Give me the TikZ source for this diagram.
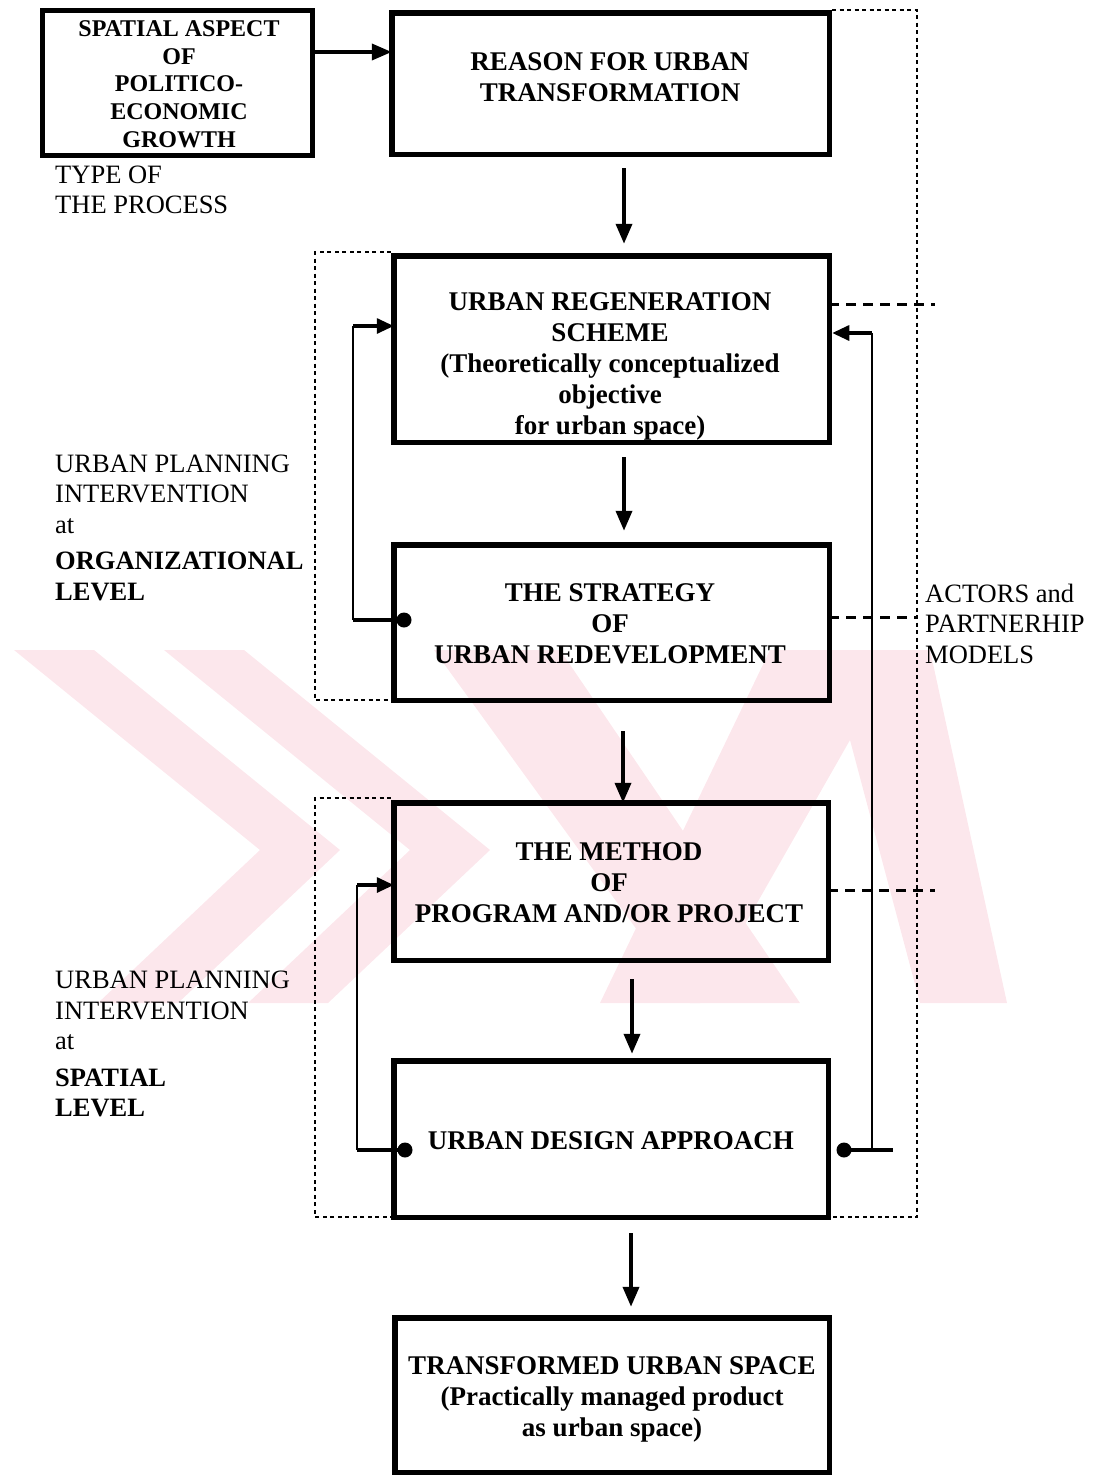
\documentclass[tikz,border=0pt]{standalone}
\usepackage{fontspec}
\setmainfont{Liberation Serif}
\usetikzlibrary{arrows.meta,calc}
\definecolor{wm}{RGB}{252,231,236}
\begin{document}
\begin{tikzpicture}[x=1pt,y=-1pt,
  box/.style={draw, line width=5.5pt, inner sep=0pt, outer sep=0pt},
  btext/.style={align=center, inner sep=0pt, font=\fontsize{27}{31}\selectfont\bfseries},
  lbl/.style={align=left, inner sep=0pt, anchor=west, font=\fontsize{26.5}{30.5}\selectfont},
  arr/.style={line width=3.8pt, -{Triangle[length=20pt,width=16pt]}},
  fbarr/.style={line width=3.2pt, -{Triangle[length=17pt,width=15pt]}},
  fbline/.style={line width=3.2pt},
  fbvert/.style={line width=2.2pt},
  dotline/.style={line width=2pt, dash pattern=on 4pt off 3.5pt},
  dashline/.style={line width=3pt, dash pattern=on 10pt off 7pt},
  blob/.style={fill=black}]
\useasboundingbox (0,0) rectangle (1097,1475);

% faint background emblem
\begin{scope}[fill=wm]
  \fill (14,650) -- (94,650) -- (340,850) -- (178,1003) -- (98,1003) -- (260,850) -- cycle;
  \fill (164,650) -- (244,650) -- (490,850) -- (328,1003) -- (248,1003) -- (410,850) -- cycle;
  \fill (434,650) -- (560,650) -- (800,1003) -- (690,1003) -- cycle;
  \fill (770,650) -- (930,650) -- (1007,1003) -- (920,1003) -- (850,740) -- (700,1003) -- (600,1003) -- cycle;
\end{scope}

% boxes
\node[box, minimum width=270pt, minimum height=145pt] (spatial) at (177.5,83) {};
\node[box, minimum width=437.5pt, minimum height=141.5pt] (reason) at (610.5,83.5) {};
\node[box, minimum width=435.5pt, minimum height=186.5pt] (regen) at (611.5,349) {};
\node[box, minimum width=435.5pt, minimum height=155.5pt] (strategy) at (611.5,622.5) {};
\node[box, minimum width=434.5pt, minimum height=157.5pt] (method) at (611,881.5) {};
\node[box, minimum width=434.5pt, minimum height=156.5pt] (uda) at (611,1139) {};
\node[box, minimum width=434.5pt, minimum height=154.5pt] (transformed) at (612,1395) {};

% box texts
\node[btext, font=\fontsize{24}{27.75}\selectfont\bfseries] (spatialT) at (179,84)
  {SPATIAL ASPECT\\OF\\POLITICO-\\ECONOMIC\\GROWTH};
\node[btext] (reasonT) at (610,77.5) {REASON FOR URBAN\\TRANSFORMATION};
\node[btext] (regenT) at (610,366.5)
  {URBAN REGENERATION\\SCHEME\\(Theoretically conceptualized\\objective\\for urban space)};
\node[btext] (strategyT) at (610,623.5) {THE STRATEGY\\OF\\URBAN REDEVELOPMENT};
\node[btext] (methodT) at (609,882.5) {THE METHOD\\OF\\PROGRAM AND/OR PROJECT};
\node[btext] (udaT) at (611,1141) {URBAN DESIGN APPROACH};
\node[btext] (transformedT) at (612,1399)
  {TRANSFORMED URBAN SPACE\\(Practically managed product\\as urban space)};

% side labels
\node[lbl] (typeT) at (55,190) {TYPE OF\\THE PROCESS};
\node[lbl] (orgT) at (55,527.5)
  {URBAN PLANNING\\INTERVENTION\\at\\[6pt]\textbf{ORGANIZATIONAL}\\\textbf{LEVEL}};
\node[lbl] (spaT) at (55,1044)
  {URBAN PLANNING\\INTERVENTION\\at\\[6pt]\textbf{SPATIAL}\\\textbf{LEVEL}};
\node[lbl] (actT) at (925,623.5) {ACTORS and\\PARTNERHIP\\MODELS};

% dotted frames
\draw[dotline] (391,252) -- (315,252) -- (315,700) -- (391,700);
\draw[dotline] (832,10) -- (917,10) -- (917,1217) -- (315,1217) -- (315,798) -- (391,798);

% dashed links towards the actors
\draw[dashline] (regen.east |- 0,304) -- (935,304);
\draw[dashline] (strategy.east |- 0,617) -- (917,617);
\draw[dashline] (method.east |- 0,890) -- (935,890);

% main flow
\draw[arr] ([yshift=31pt]spatial.east) -- ([yshift=31.5pt]reason.west);
\draw[arr, shorten <=14pt, shorten >=12pt] ([xshift=13.5pt]reason.south) -- ([xshift=12.5pt]regen.north);
\draw[arr, shorten <=15pt, shorten >=14pt] ([xshift=12.5pt]regen.south) -- ([xshift=12.5pt]strategy.north);
\draw[arr, shorten <=31pt] ([xshift=11.5pt]strategy.south) -- ([xshift=12pt]method.north);
\draw[arr, shorten <=19pt, shorten >=7pt] ([xshift=21pt]method.south) -- ([xshift=21pt]uda.north);
\draw[arr, shorten <=16pt, shorten >=11pt] ([xshift=20pt]uda.south) -- ([xshift=19pt]transformed.north);

% feedback loops
\coordinate (dS) at (404,620);
\coordinate (dL) at (405,1150);
\coordinate (dR) at (844,1150);
\coordinate (s1) at (353,620);
\coordinate (s2) at (353,326);
\coordinate (s3) at (357,1150);
\coordinate (s4) at (357,885);
\coordinate (r1) at (872,1150);
\coordinate (r2) at (872,333);
\coordinate (r3) at (893,1150);

\draw[fbline] (dS) -- (s1);
\draw[fbvert] (s1) -- (s2);
\draw[fbarr] (s2) -- (s2 -| regen.west);
\fill[blob] (dS) circle (7.5pt);

\draw[fbline] (dL) -- (s3);
\draw[fbvert] (s3) -- (s4);
\draw[fbarr] (s4) -- (s4 -| method.west);
\fill[blob] (dL) circle (7.5pt);

\draw[fbline] (dR) -- (r3);
\draw[fbvert] (r1) -- (r2);
\draw[fbarr] (r2) -- ([xshift=3pt]r2 -| regen.east);
\fill[blob] (dR) circle (7.5pt);
\end{tikzpicture}
\end{document}
